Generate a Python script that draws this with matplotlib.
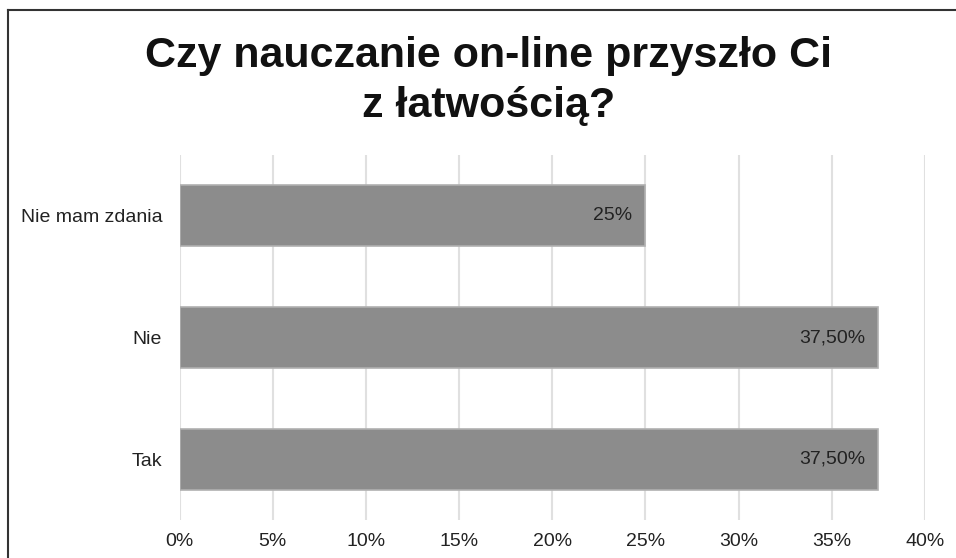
import matplotlib.pyplot as plt
import numpy as np

plt.rcParams['font.family'] = ['Liberation Sans', 'DejaVu Sans']

categories = ["Tak", "Nie", "Nie mam zdania"]
values = [37.5, 37.5, 25.0]
value_labels = ["37,50%", "37,50%", "25%"]
ticks = [0, 5, 10, 15, 20, 25, 30, 35, 40]
title_lines = ["Czy nauczanie on-line przyszło Ci", "z łatwością?"]

fig = plt.figure(figsize=(9.56, 5.58), dpi=100)
ax = fig.add_axes([179.5 / 956, 0.0681, (925 - 179.5) / 956, 0.7222 - 0.0681])

y = np.arange(len(categories))
ax.barh(y, values, height=0.5, color="#8c8c8c", edgecolor="#b0b0b0", linewidth=1.2, zorder=3)

for yi, v, lab in zip(y, values, value_labels):
    ax.annotate(lab, (v, yi), xytext=(-9.5, 0), textcoords="offset points",
                ha="right", va="center", fontsize=14, color="#222222", zorder=4)

ax.set_xlim(0, 40)
ax.set_ylim(-0.5, 2.5)
ax.set_xticks(ticks)
ax.set_xticklabels([f"{t}%" for t in ticks], fontsize=14, color="#222222")
ax.set_yticks(y)
ax.set_yticklabels(categories, fontsize=14, color="#222222")
ax.tick_params(axis="y", length=0, pad=12.5)
ax.tick_params(axis="x", length=0, pad=9)
ax.grid(axis="x", color="#e0e0e0", linewidth=1.5, zorder=0)
for s in ax.spines.values():
    s.set_visible(False)

# title: two lines placed by baseline
for line, base_px in zip(title_lines, [67, 117]):
    fig.text(0.511, 1 - base_px / 558, line, ha="center", va="baseline",
             fontsize=31, fontweight="bold", color="#111111")

# frame around the chart (left and top edges visible)
fig.add_artist(plt.Line2D([8 / 956, 8 / 956], [0, 1 - 10 / 558], color="#333333", linewidth=1.5))
fig.add_artist(plt.Line2D([8 / 956, 1], [1 - 10 / 558, 1 - 10 / 558], color="#333333", linewidth=1.5))

fig.savefig("out.png", dpi=100, facecolor="white")
